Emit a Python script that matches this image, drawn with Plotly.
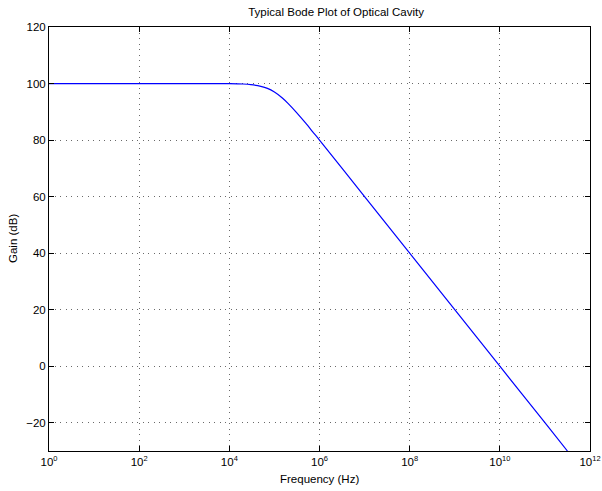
import plotly.graph_objects as go

# Values
freq_hz = [1, 10, 100, 1e3, 3e3, 1e4, 2e4, 3e4, 5e4, 7e4, 1e5, 1.5e5, 2e5, 3e5,
           5e5, 7e5, 1e6, 1e7, 1e8, 1e9, 1e10, 1e11, 3.16e11]
gain_db = [100, 100, 100, 100, 100, 99.96, 99.83, 99.6, 99.0, 98.3, 97.0, 94.9,
           93.0, 90.0, 85.9, 83.0, 80.0, 60.0, 40.0, 20.0, 0.0, -20.0, -30.0]

x_tick_vals = [1, 1e2, 1e4, 1e6, 1e8, 1e10, 1e12]
x_exponents = ["0", "2", "4", "6", "8", "10", "12"]
y_tick_vals = [-20, 0, 20, 40, 60, 80, 100, 120]

x_tick_text = ["10<sup><span style='font-size:7.5px'>%s</span></sup>" % e for e in x_exponents]

W, H = 602, 491
L, R, T, B = 49, 12, 27, 40

fig = go.Figure()
fig.add_trace(go.Scatter(x=freq_hz, y=gain_db, mode="lines",
                         line=dict(color="#0000ff", width=1.2, shape="spline", smoothing=0.6),
                         showlegend=False, hoverinfo="skip"))

fam = "Liberation Sans, Arial, Helvetica, sans-serif"
font = dict(family=fam, size=11.5, color="black")
axis_common = dict(showline=True, linecolor="black", linewidth=1, mirror="ticks",
                   ticks="inside", ticklen=5, tickcolor="black",
                   showgrid=True, gridcolor="#6a6a6a", griddash="1px,4.5px", gridwidth=1,
                   zeroline=False, tickfont=font, automargin=False)

fig.update_layout(
    width=W, height=H,
    margin=dict(l=L, r=R, t=T, b=B),
    paper_bgcolor="white", plot_bgcolor="white",
    font=font,
    hovermode=False,
    title=dict(text="Typical Bode Plot of Optical Cavity", x=(L + (W - L - R) / 2) / W,
               xref="paper", xanchor="center", y=1 - 12 / H, yanchor="middle",
               font=dict(family=fam, size=11.5, color="black")),
    xaxis=dict(type="log", range=[0, 12], tickvals=x_tick_vals, ticktext=x_tick_text,
               **axis_common),
    yaxis=dict(range=[-30, 120], tickvals=y_tick_vals, **axis_common),
)

pw, ph = W - L - R, H - T - B
fig.add_annotation(text="Frequency (Hz)", xref="paper", yref="paper",
                   x=0.5, y=-(479 - (H - B)) / ph, xanchor="center", yanchor="middle",
                   showarrow=False, font=font)
fig.add_annotation(text="Gain (dB)", xref="paper", yref="paper",
                   x=-(L - 13) / pw, y=0.5, xanchor="center", yanchor="middle",
                   textangle=-90, showarrow=False, font=font)

fig.write_html("out.html", config={"displayModeBar": False},
               post_script="document.body.style.margin='0';document.body.style.overflow='hidden';")
